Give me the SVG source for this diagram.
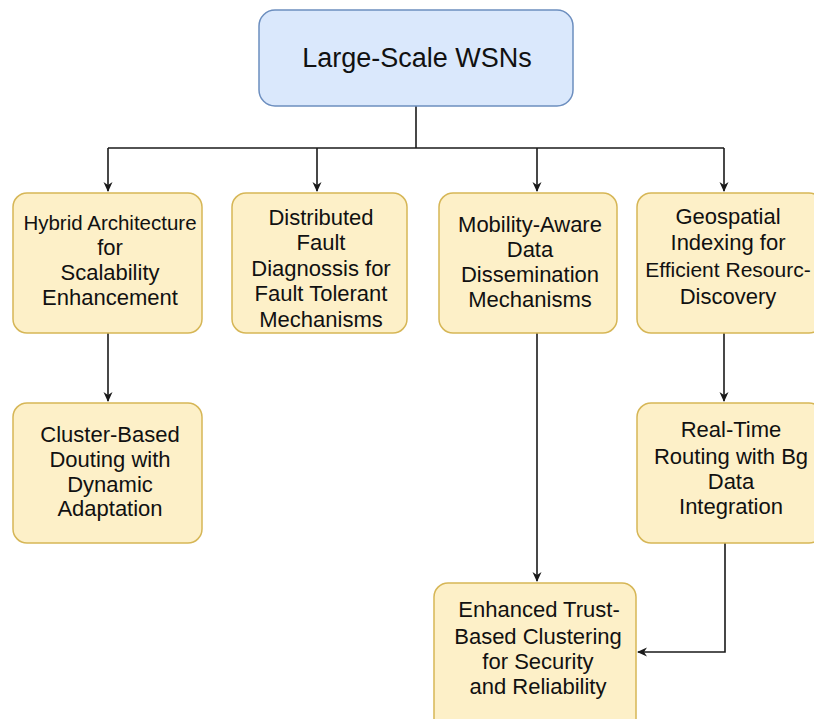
<svg xmlns="http://www.w3.org/2000/svg" width="814" height="719" viewBox="0 0 814 719">
  <defs>
    <marker id="arrow" viewBox="0 0 10 10" refX="9" refY="5" markerWidth="10" markerHeight="10" markerUnits="userSpaceOnUse" orient="auto">
      <path d="M0,0.5 L10,5 L0,9.5 L3,5 Z" fill="#1a1a1a"/>
    </marker>
  </defs>
  <style>
    .root { fill: #dae8fc; stroke: #6c8ebf; stroke-width: 1.5; }
    .box { fill: #fdf0c8; stroke: #d6b656; stroke-width: 1.5; }
    .edge { fill: none; stroke: #1a1a1a; stroke-width: 1.6; }
    text { font-family: "Liberation Sans", Arial, Helvetica, sans-serif; fill: #111; text-anchor: middle; }
    .t { font-size: 22px; }
    .big { font-size: 27px; }
  </style>
  <rect width="814" height="719" fill="#ffffff"/>

  <!-- connectors -->
  <g id="connectors">
    <path class="edge" d="M416,106 V148"/>
    <path class="edge" d="M108,148 H724"/>
    <path class="edge" d="M108,148 V191" marker-end="url(#arrow)"/>
    <path class="edge" d="M317,148 V191" marker-end="url(#arrow)"/>
    <path class="edge" d="M537,148 V191" marker-end="url(#arrow)"/>
    <path class="edge" d="M724,148 V191" marker-end="url(#arrow)"/>
    <path class="edge" d="M108,333 V401" marker-end="url(#arrow)"/>
    <path class="edge" d="M724,333 V401" marker-end="url(#arrow)"/>
    <path class="edge" d="M537,333 V581" marker-end="url(#arrow)"/>
    <path class="edge" d="M725,543 V652 H638" marker-end="url(#arrow)"/>
  </g>

  <!-- root -->
  <g id="root">
    <rect class="root" x="259" y="10" width="314" height="96" rx="16"/>
    <text class="big" x="417" y="67">Large-Scale WSNs</text>
  </g>

  <g id="hybrid">
    <rect class="box" x="13" y="193" width="189" height="140" rx="14"/>
    <text class="t" x="110" y="230" style="font-size:20.5px">Hybrid Architecture</text>
    <text class="t" x="110" y="255">for</text>
    <text class="t" x="110" y="280">Scalability</text>
    <text class="t" x="110" y="305">Enhancement</text>
  </g>

  <g id="fault">
    <rect class="box" x="232" y="193" width="175" height="140" rx="14"/>
    <text class="t" x="321" y="225">Distributed</text>
    <text class="t" x="321" y="250">Fault</text>
    <text class="t" x="321" y="276">Diagnossis for</text>
    <text class="t" x="321" y="301">Fault Tolerant</text>
    <text class="t" x="321" y="327">Mechanisms</text>
  </g>

  <g id="mobility">
    <rect class="box" x="439" y="193" width="178" height="140" rx="14"/>
    <text class="t" x="530" y="232">Mobility-Aware</text>
    <text class="t" x="530" y="257">Data</text>
    <text class="t" x="530" y="282">Dissemination</text>
    <text class="t" x="530" y="307">Mechanisms</text>
  </g>

  <g id="geospatial">
    <rect class="box" x="637" y="193" width="186" height="140" rx="14"/>
    <text class="t" x="728" y="224">Geospatial</text>
    <text class="t" x="728" y="250">Indexing for</text>
    <text class="t" x="728" y="277" style="font-size:21px">Efficient Resourc-</text>
    <text class="t" x="728" y="304">Discovery</text>
  </g>

  <g id="cluster">
    <rect class="box" x="13" y="403" width="189" height="140" rx="14"/>
    <text class="t" x="110" y="442">Cluster-Based</text>
    <text class="t" x="110" y="467">Douting with</text>
    <text class="t" x="110" y="492">Dynamic</text>
    <text class="t" x="110" y="516">Adaptation</text>
  </g>

  <g id="realtime">
    <rect class="box" x="637" y="403" width="186" height="140" rx="14"/>
    <text class="t" x="731" y="437">Real-Time</text>
    <text class="t" x="731" y="464">Routing with Bg</text>
    <text class="t" x="731" y="489">Data</text>
    <text class="t" x="731" y="514">Integration</text>
  </g>

  <g id="trust">
    <rect class="box" x="434" y="583" width="202" height="150" rx="14"/>
    <text class="t" x="539" y="617">Enhanced Trust-</text>
    <text class="t" x="538" y="644">Based Clustering</text>
    <text class="t" x="538" y="669">for Security</text>
    <text class="t" x="538" y="694">and Reliability</text>
  </g>
</svg>
